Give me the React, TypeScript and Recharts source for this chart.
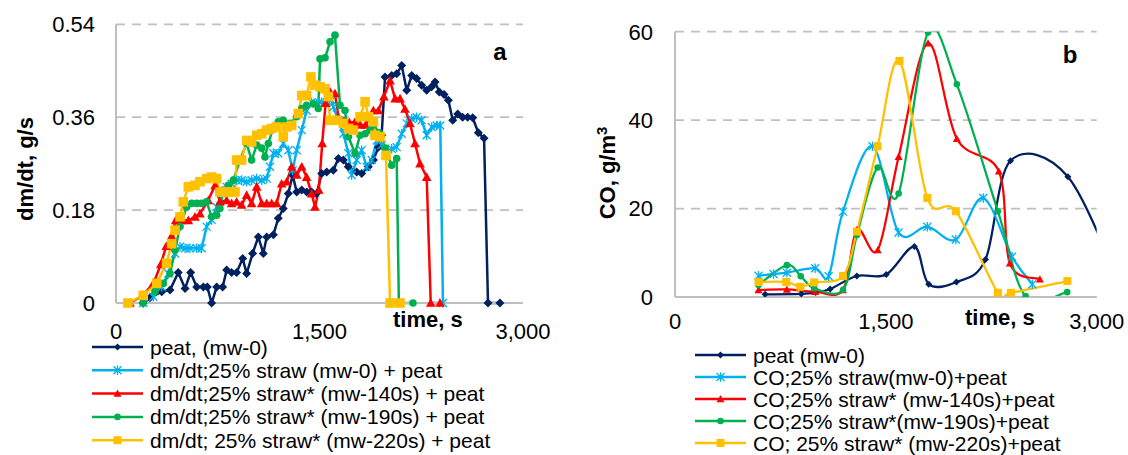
import { LineChart, Line, XAxis, YAxis, CartesianGrid } from "recharts";

// chart a: dm/dt, g/s against time, s  ([time, value])
const peatA = [
  [200, 0], [250, 0.01], [337, 0.022], [398, 0.025], [459, 0.059], [509, 0.028], [550, 0.059],
  [595, 0.031], [644, 0.031], [673, 0.031], [705, 0], [742, 0.031], [786, 0.031], [816, 0.064],
  [852, 0.059], [889, 0.059], [934, 0.086], [963, 0.057], [1007, 0.096], [1049, 0.128],
  [1086, 0.096], [1111, 0.128], [1160, 0.132], [1196, 0.164], [1233, 0.183], [1270, 0.212],
  [1302, 0.248], [1332, 0.215], [1369, 0.219], [1406, 0.215], [1442, 0.215], [1479, 0.212],
  [1516, 0.251], [1553, 0.254], [1602, 0.257], [1639, 0.28], [1676, 0.277], [1712, 0.264],
  [1774, 0.254], [1811, 0.251], [1860, 0.264], [1897, 0.277], [1934, 0.302], [1958, 0.325],
  [1983, 0.438], [2032, 0.441], [2069, 0.444], [2106, 0.46], [2143, 0.412], [2180, 0.441],
  [2216, 0.435], [2253, 0.422], [2290, 0.412], [2327, 0.419], [2352, 0.428], [2383, 0.409],
  [2418, 0.404], [2450, 0.393], [2482, 0.354], [2519, 0.366], [2555, 0.36], [2592, 0.36],
  [2629, 0.359], [2671, 0.33], [2713, 0.319], [2742, 0], [2830, 0],
];
const strawA = [
  [201, 0], [275, 0.012], [337, 0.031], [386, 0.057], [435, 0.096], [472, 0.109], [509, 0.106],
  [545, 0.106], [595, 0.106], [631, 0.106], [668, 0.148], [705, 0.161], [742, 0.186], [779, 0.212],
  [816, 0.225], [852, 0.231], [889, 0.238], [926, 0.238], [963, 0.235], [1000, 0.238], [1037, 0.241],
  [1074, 0.238], [1111, 0.241], [1135, 0.264], [1160, 0.29], [1196, 0.29], [1233, 0.309],
  [1270, 0.296], [1302, 0.257], [1332, 0.296], [1369, 0.335], [1405, 0.373], [1442, 0.389],
  [1479, 0.386], [1516, 0.389], [1553, 0.389], [1590, 0.393], [1602, 0.38], [1639, 0.354],
  [1676, 0.328], [1713, 0.29], [1737, 0.248], [1774, 0.277], [1811, 0.296], [1848, 0.264],
  [1885, 0.277], [1922, 0.315], [1958, 0.306], [1995, 0.29], [2032, 0.299], [2069, 0.302],
  [2106, 0.328], [2143, 0.348], [2180, 0.357], [2216, 0.36], [2253, 0.354], [2290, 0.325],
  [2327, 0.341], [2364, 0.344], [2390, 0.344], [2410, 0],
];
const mw140A = [
  [103, 0], [200, 0.015], [280, 0.04], [330, 0.075], [370, 0.11], [410, 0.13], [440, 0.16],
  [484, 0.16], [533, 0.16], [582, 0.167], [619, 0.173], [680, 0.199], [730, 0.228], [766, 0.196],
  [816, 0.199], [852, 0.193], [889, 0.196], [926, 0.19], [963, 0.209], [1000, 0.193], [1037, 0.225],
  [1074, 0.193], [1111, 0.193], [1147, 0.193], [1184, 0.193], [1221, 0.231], [1258, 0.235],
  [1295, 0.264], [1332, 0.248], [1369, 0.264], [1405, 0.244], [1442, 0.212], [1467, 0.186],
  [1495, 0.219], [1520, 0.309], [1545, 0.387], [1578, 0.409], [1614, 0.406], [1640, 0.36],
  [1680, 0.352], [1720, 0.35], [1760, 0.35], [1800, 0.345], [1840, 0.345], [1870, 0.36],
  [1897, 0.373], [1934, 0.373], [1975, 0.4], [2020, 0.431], [2057, 0.396], [2094, 0.396],
  [2130, 0.376], [2167, 0.348], [2204, 0.309], [2241, 0.27], [2290, 0.244], [2320, 0], [2388, 0],
];
const mw190A = [
  [199, 0], [287, 0.022], [349, 0.038], [398, 0.057], [435, 0.102], [472, 0.148], [521, 0.186],
  [558, 0.193], [595, 0.193], [631, 0.193], [668, 0.196], [705, 0.167], [742, 0.17], [766, 0.183],
  [791, 0.219], [828, 0.228], [865, 0.238], [914, 0.277], [963, 0.309], [1000, 0.277], [1037, 0.306],
  [1074, 0.3], [1098, 0.283], [1123, 0.309], [1160, 0.341], [1196, 0.351], [1233, 0.354],
  [1283, 0.348], [1332, 0.361], [1369, 0.377], [1405, 0.383], [1455, 0.386], [1491, 0.377],
  [1504, 0.473], [1541, 0.475], [1578, 0.506], [1614, 0.519], [1651, 0.383], [1688, 0.373],
  [1713, 0.322], [1762, 0.29], [1799, 0.325], [1836, 0.328], [1872, 0.335], [1897, 0.345],
  [1940, 0.33], [1985, 0.3], [2032, 0.267], [2069, 0.28], [2085, 0], [2189, 0],
];
const mw220A = [
  [88, 0], [201, 0.015], [300, 0.038], [373, 0.077], [410, 0.115], [435, 0.141], [472, 0.167],
  [496, 0.196], [533, 0.225], [582, 0.228], [619, 0.235], [668, 0.241], [705, 0.244], [742, 0.241],
  [766, 0.215], [803, 0.215], [840, 0.215], [877, 0.215], [889, 0.277], [926, 0.277], [963, 0.315],
  [1000, 0.312], [1037, 0.325], [1074, 0.328], [1111, 0.335], [1147, 0.338], [1184, 0.341],
  [1233, 0.322], [1258, 0.341], [1295, 0.344], [1344, 0.367], [1369, 0.402], [1405, 0.402],
  [1437, 0.438], [1467, 0.422], [1504, 0.419], [1541, 0.415], [1565, 0.4], [1578, 0.354],
  [1627, 0.354], [1676, 0.348], [1713, 0.338], [1750, 0.335], [1799, 0.361], [1836, 0.39],
  [1860, 0.361], [1897, 0.351], [1909, 0.325], [1946, 0.322], [1990, 0.286], [2020, 0], [2093, 0],
];

// chart b: CO, g/m3 against time, s
const peatB = [
  [641, 0.6], [898, 0.7], [1000, 1.0], [1104, 1.8], [1294, 4.75], [1503, 5.1], [1703, 11.4],
  [1805, 2.9], [2002, 3.4], [2209, 8.5], [2387, 30.8], [2795, 27.2], [3200, 0],
];
const strawB = [
  [594, 4.8], [701, 5.2], [796, 5.5], [997, 6.5], [1093, 4.7], [1195, 19.3], [1405, 34.1],
  [1590, 14.6], [1795, 15.9], [1998, 13.0], [2193, 22.4], [2398, 9.1], [2542, 2.9],
];
const mw140B = [
  [594, 1.6], [796, 1.7], [997, 1.2], [1195, 1.6], [1294, 15.2], [1442, 10.6], [1591, 31.7],
  [1800, 57.4], [2005, 35.8], [2304, 28.4], [2382, 7.6], [2596, 4.0],
];
const mw190B = [
  [594, 2.7], [796, 7.2], [895, 4.7], [990, 2.0], [1195, 1.6], [1294, 14.0], [1442, 29.3],
  [1591, 23.4], [1800, 59.8], [2005, 48.1], [2297, 19.4], [2494, 0.2], [2790, 1.1],
];
const mw220B = [
  [594, 3.4], [791, 3.4], [891, 2.3], [990, 3.3], [1195, 4.75], [1294, 14.8], [1441, 34.1],
  [1597, 53.4], [1795, 22.4], [1998, 19.4], [2297, 0.95], [2390, 0.95], [2791, 3.6],
];

const xTicks = [0, 1500, 3000];
const yTicksA = [0, 0.18, 0.36, 0.54];
const yTicksB = [0, 20, 40, 60];

const legendA = [
  "peat, (mw-0)",
  "dm/dt;25% straw (mw-0) + peat",
  "dm/dt;25% straw* (mw-140s) + peat",
  "dm/dt;25% straw* (mw-190s) + peat",
  "dm/dt; 25% straw* (mw-220s) + peat",
];
const legendB = [
  "peat (mw-0)",
  "CO;25% straw(mw-0)+peat",
  "CO;25% straw* (mw-140s)+peat",
  "CO;25% straw*(mw-190s)+peat",
  "CO; 25% straw* (mw-220s)+peat",
];

const styles = [
  { color: "#002060", shape: "diamond", sa: 4.5, sb: 3.5 },
  { color: "#00b0f0", shape: "star", sa: 4, sb: 4 },
  { color: "#ff0000", shape: "triangle", sa: 4.8, sb: 4 },
  { color: "#00b050", shape: "circle", sa: 3.8, sb: 3.3 },
  { color: "#ffc000", shape: "square", sa: 4.8, sb: 4 },
];

const toRows = (arr: number[][]) => arr.map(([t, v]) => ({ t, v }));
const seriesA = [peatA, strawA, mw140A, mw190A, mw220A].map(toRows);
const seriesB = [peatB, strawB, mw140B, mw190B, mw220B].map(toRows);

const GRID = "#bfbfbf";
const FONT = "'Liberation Sans', Arial, sans-serif";

// excel-like smoothed line (catmull-rom through the points)
const smooth = (context: any) => {
  let p: number[][] = [];
  return {
    areaStart() {},
    areaEnd() {},
    lineStart() {
      p = [];
    },
    point(x: number, y: number) {
      p.push([+x, +y]);
    },
    lineEnd() {
      if (!p.length) return;
      context.moveTo(p[0][0], p[0][1]);
      for (let i = 0; i < p.length - 1; i++) {
        const a = p[i - 1] || p[i];
        const b = p[i];
        const c = p[i + 1];
        const d = p[i + 2] || c;
        context.bezierCurveTo(
          b[0] + (c[0] - a[0]) / 6,
          b[1] + (c[1] - a[1]) / 6,
          c[0] - (d[0] - b[0]) / 6,
          c[1] - (d[1] - b[1]) / 6,
          c[0],
          c[1]
        );
      }
    },
  };
};

function Marker({ shape, x, y, s, color }: any) {
  switch (shape) {
    case "diamond":
      return <polygon points={`${x},${y - s} ${x + s},${y} ${x},${y + s} ${x - s},${y}`} fill={color} />;
    case "star":
      return (
        <path
          d={`M${x - s},${y - s}L${x + s},${y + s}M${x - s},${y + s}L${x + s},${y - s}M${x},${y - s * 1.2}L${x},${y + s * 1.2}`}
          stroke={color}
          strokeWidth={1.3}
          fill="none"
        />
      );
    case "triangle":
      return <polygon points={`${x},${y - s} ${x + s},${y + s * 0.8} ${x - s},${y + s * 0.8}`} fill={color} />;
    case "circle":
      return <circle cx={x} cy={y} r={s} fill={color} />;
    default:
      return <rect x={x - s} y={y - s} width={2 * s} height={2 * s} fill={color} />;
  }
}

const dotFn = (shape: string, color: string, s: number) => (p: any) => {
  const key = `${shape}-${p.index}`;
  if (p.cx == null || p.cy == null || !isFinite(p.cx) || p.payload?.t > 3000) return <g key={key} />;
  return (
    <g key={key}>
      <Marker shape={shape} x={p.cx} y={p.cy} s={s} color={color} />
    </g>
  );
};

const fmtX = (v: number) => v.toLocaleString("en-US");
const tickStyle = { fill: "#000", fontSize: 22, fontFamily: FONT };

function Legend({ items, x, top, step }: { items: string[]; x: number; top: number; step: number }) {
  return (
    <g>
      {items.map((label, i) => {
        const y = top + i * step;
        const st = styles[i];
        return (
          <g key={label}>
            <line x1={x} x2={x + 51} y1={y} y2={y} stroke={st.color} strokeWidth={2.5} />
            <Marker shape={st.shape} x={x + 25.5} y={y} s={st.sb} color={st.color} />
            <text x={x + 58} y={y + 7.5} fontSize={21} fill="#000">
              {label}
            </text>
          </g>
        );
      })}
    </g>
  );
}

export default function App() {
  return (
    <div
      style={{
        position: "absolute",
        left: 0,
        top: 0,
        width: 1128,
        height: 455,
        background: "#fff",
        fontFamily: FONT,
        overflow: "hidden",
      }}
    >
      <div style={{ position: "absolute", left: 0, top: 0 }}>
        <LineChart width={560} height={360} margin={{ top: 24.3, right: 37, left: 0, bottom: 0 }}>
          <CartesianGrid vertical={false} stroke={GRID} strokeWidth={1.75} strokeDasharray="9 7" />
          <XAxis
            dataKey="t"
            type="number"
            domain={[0, 3000]}
            ticks={xTicks}
            interval={0}
            tickFormatter={fmtX}
            axisLine={{ stroke: GRID, strokeWidth: 2 }}
            tickLine={false}
            tickSize={0}
            tickMargin={20}
            height={57}
            tick={tickStyle}
          />
          <YAxis
            type="number"
            domain={[0, 0.54]}
            ticks={yTicksA}
            interval={0}
            width={116}
            axisLine={{ stroke: GRID, strokeWidth: 2 }}
            tickLine={false}
            tickSize={0}
            tickMargin={21}
            tick={tickStyle}
          />
          {seriesA.map((rows, i) => (
            <Line
              key={i}
              data={rows}
              dataKey="v"
              type="linear"
              stroke={styles[i].color}
              strokeWidth={2.5}
              dot={dotFn(styles[i].shape, styles[i].color, styles[i].sa)}
              activeDot={false}
              isAnimationActive={false}
            />
          ))}
        </LineChart>
      </div>

      <div style={{ position: "absolute", left: 570, top: 0 }}>
        <LineChart width={558} height={357} margin={{ top: 31.7, right: 31.3, left: 0, bottom: 0 }}>
          <CartesianGrid vertical={false} stroke={GRID} strokeWidth={1.75} strokeDasharray="9 7" />
          <XAxis
            dataKey="t"
            type="number"
            domain={[0, 3000]}
            allowDataOverflow
            ticks={xTicks}
            interval={0}
            tickFormatter={fmtX}
            axisLine={{ stroke: GRID, strokeWidth: 2 }}
            tickLine={false}
            tickSize={0}
            tickMargin={16}
            height={60}
            tick={tickStyle}
          />
          <YAxis
            type="number"
            domain={[0, 60]}
            allowDataOverflow
            ticks={yTicksB}
            interval={0}
            width={105}
            axisLine={{ stroke: GRID, strokeWidth: 2 }}
            tickLine={false}
            tickSize={0}
            tickMargin={22}
            tick={tickStyle}
          />
          {seriesB.map((rows, i) => (
            <Line
              key={i}
              data={rows}
              dataKey="v"
              type={smooth as any}
              stroke={styles[i].color}
              strokeWidth={2.25}
              dot={dotFn(styles[i].shape, styles[i].color, styles[i].sb)}
              activeDot={false}
              isAnimationActive={false}
            />
          ))}
        </LineChart>
      </div>

      <svg
        width={1128}
        height={455}
        style={{ position: "absolute", left: 0, top: 0, pointerEvents: "none", fontFamily: FONT }}
      >
        <text transform="translate(33,169) rotate(-90)" textAnchor="middle" fontSize={22} fontWeight="bold">
          dm/dt, g/s
        </text>
        <text transform="translate(615,173) rotate(-90)" textAnchor="middle" fontSize={22} fontWeight="bold">
          <tspan>CO, g/m</tspan>
          <tspan dy={-8} fontSize={15}>
            3
          </tspan>
        </text>
        <text x={393} y={327} fontSize={22} fontWeight="bold">
          time, s
        </text>
        <text x={965} y={325} fontSize={22} fontWeight="bold">
          time, s
        </text>
        <text x={500} y={60} fontSize={24} fontWeight="bold" textAnchor="middle">
          a
        </text>
        <text x={1070} y={63} fontSize={24} fontWeight="bold" textAnchor="middle">
          b
        </text>
        <Legend items={legendA} x={92} top={347} step={23.3} />
        <Legend items={legendB} x={695} top={355} step={22} />
      </svg>
    </div>
  );
}
